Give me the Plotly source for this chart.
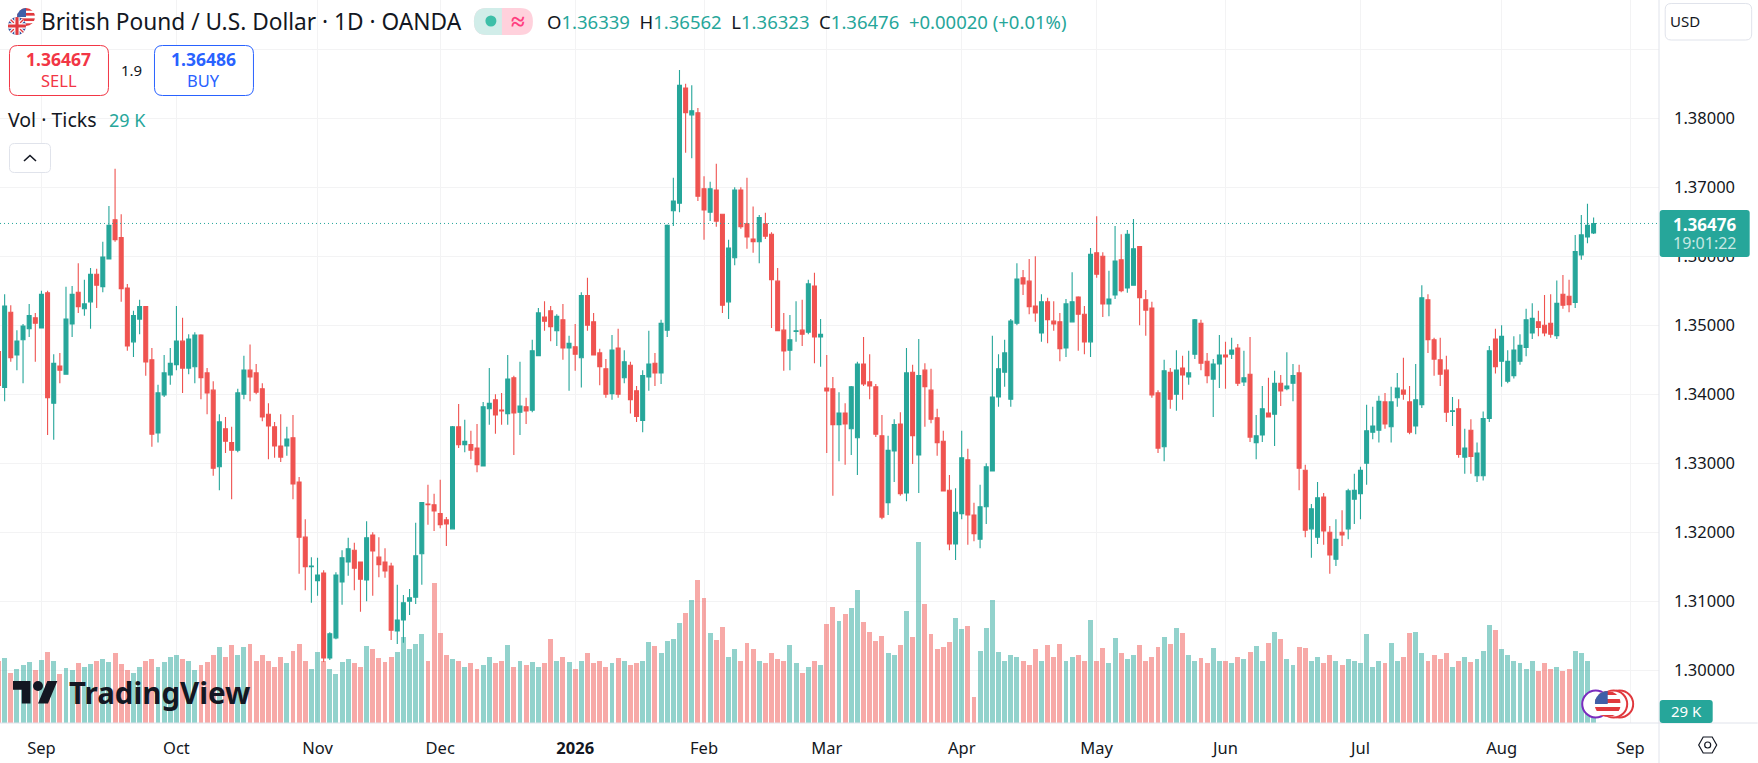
import base64
import plotly.graph_objects as go

open_ = [
1.3462,1.3410,1.3519,1.3457,1.3479,1.3495,1.3511,1.3496,1.3547,1.3387,
1.3441,1.3429,1.3502,1.3548,1.3524,1.3534,1.3574,1.3556,1.3596,1.3653,
1.3627,1.3554,1.3476,1.3509,1.3527,1.3450,1.3344,1.3399,1.3428,1.3443,
1.3477,1.3438,1.3440,1.3486,1.3431,1.3406,1.3295,1.3350,1.3330,1.3319,
1.3400,1.3435,1.3431,1.3408,1.3371,1.3353,1.3325,1.3325,1.3337,1.3273,
1.3193,1.3150,1.3130,1.3141,1.3018,1.3047,1.3128,1.3157,1.3174,1.3157,
1.3131,1.3196,1.3164,1.3157,1.3151,1.3057,1.3073,1.3100,1.3106,1.3169,
1.3241,1.3240,1.3227,1.3218,1.3205,1.3353,1.3327,1.3327,1.3322,1.3296,
1.3379,1.3392,1.3377,1.3372,1.3424,1.3374,1.3382,1.3377,1.3456,1.3512,
1.3521,1.3492,1.3508,1.3467,1.3469,1.3453,1.3543,1.3505,1.3460,1.3437,
1.3401,1.3467,1.3424,1.3442,1.3405,1.3362,1.3425,1.3445,1.3431,1.3493,
1.3666,1.3677,1.3844,1.3805,1.3808,1.3698,1.3664,1.3696,1.3661,1.3534,
1.3598,1.3696,1.3647,1.3625,1.3621,1.3647,1.3632,1.3564,1.3493,1.3464,
1.3491,1.3493,1.3490,1.3557,1.3483,1.3409,1.3408,1.3356,1.3373,1.3350,
1.3337,1.3444,1.3418,1.3411,1.3340,1.3243,1.3318,1.3357,1.3257,1.3432,
1.3312,1.3435,1.3406,1.3366,1.3332,1.3261,1.3183,1.3227,1.3305,1.3225,
1.3190,1.3237,1.3289,1.3396,1.3432,1.3393,1.3503,1.3569,1.3564,1.3528,
1.3489,1.3534,1.3506,1.3505,1.3467,1.3505,1.3541,1.3516,1.3476,1.3605,
1.3600,1.3531,1.3544,1.3595,1.3554,1.3558,1.3614,1.3537,1.3525,1.3402,
1.3324,1.3432,1.3400,1.3438,1.3425,1.3458,1.3503,1.3448,1.3422,1.3444,
1.3457,1.3458,1.3467,1.3418,1.3429,1.3330,1.3341,1.3373,1.3371,1.3416,
1.3408,1.3416,1.3431,1.3290,1.3205,1.3193,1.3251,1.3200,1.3161,1.3200,
1.3205,1.3248,1.3256,1.3300,1.3345,1.3348,1.3389,1.3353,1.3395,1.3406,
1.3389,1.3354,1.3385,1.3537,1.3479,1.3450,1.3435,1.3375,1.3379,1.3309,
1.3348,1.3282,1.3282,1.3365,1.3480,1.3448,1.3419,1.3427,1.3448,1.3468,
1.3489,1.3505,1.3500,1.3503,1.3485,1.3545,1.3542,1.3533,1.3602,1.3628,1.36339]

high = [
1.3465,1.3545,1.3529,1.3493,1.3502,1.3531,1.3518,1.3550,1.3550,1.3458,
1.3460,1.3556,1.3557,1.3590,1.3566,1.3583,1.3582,1.3621,1.3673,1.3727,
1.3661,1.3560,1.3521,1.3537,1.3528,1.3467,1.3414,1.3457,1.3467,1.3528,
1.3511,1.3487,1.3490,1.3487,1.3438,1.3419,1.3371,1.3367,1.3353,1.3408,
1.3456,1.3472,1.3444,1.3416,1.3387,1.3360,1.3371,1.3353,1.3370,1.3280,
1.3219,1.3164,1.3163,1.3145,1.3055,1.3142,1.3174,1.3192,1.3185,1.3157,
1.3216,1.3200,1.3193,1.3177,1.3156,1.3124,1.3109,1.3118,1.3214,1.3244,
1.3269,1.3256,1.3276,1.3222,1.3354,1.3386,1.3363,1.3347,1.3357,1.3389,
1.3438,1.3400,1.3402,1.3457,1.3427,1.3447,1.3395,1.3479,1.3525,1.3535,
1.3528,1.3516,1.3531,1.3485,1.3502,1.3548,1.3569,1.3518,1.3466,1.3451,
1.3486,1.3495,1.3464,1.3447,1.3412,1.3435,1.3492,1.3460,1.3508,1.3646,
1.3714,1.3870,1.3850,1.3848,1.3815,1.3716,1.3708,1.3734,1.3661,1.3624,
1.3700,1.3700,1.3714,1.3672,1.3660,1.3663,1.3635,1.3583,1.3518,1.3515,
1.3535,1.3537,1.3566,1.3576,1.3509,1.3457,1.3425,1.3403,1.3387,1.3412,
1.3447,1.3483,1.3458,1.3415,1.3370,1.3340,1.3364,1.3374,1.3467,1.3443,
1.3480,1.3445,1.3437,1.3379,1.3347,1.3283,1.3264,1.3347,1.3321,1.3243,
1.3269,1.3300,1.3485,1.3458,1.3479,1.3509,1.3590,1.3580,1.3596,1.3600,
1.3545,1.3540,1.3535,1.3518,1.3538,1.3577,1.3542,1.3528,1.3612,1.3658,
1.3606,1.3579,1.3644,1.3632,1.3638,1.3654,1.3615,1.3551,1.3534,1.3406,
1.3450,1.3438,1.3464,1.3456,1.3463,1.3509,1.3508,1.3460,1.3451,1.3486,
1.3476,1.3482,1.3473,1.3463,1.3483,1.3370,1.3412,1.3424,1.3434,1.3428,
1.3461,1.3444,1.3443,1.3298,1.3241,1.3273,1.3257,1.3209,1.3219,1.3232,
1.3263,1.3285,1.3295,1.3385,1.3382,1.3398,1.3402,1.3411,1.3431,1.3453,
1.3412,1.3444,1.3558,1.3545,1.3482,1.3482,1.3456,1.3396,1.3393,1.3350,
1.3364,1.3330,1.3375,1.3470,1.3495,1.3500,1.3464,1.3484,1.3487,1.3524,
1.3532,1.3521,1.3544,1.3545,1.3565,1.3573,1.3566,1.3631,1.3660,1.3676,1.36562]

low = [
1.3405,1.3390,1.3447,1.3435,1.3416,1.3483,1.3447,1.3496,1.3341,1.3334,
1.3416,1.3429,1.3483,1.3518,1.3514,1.3495,1.3525,1.3548,1.3596,1.3621,
1.3534,1.3463,1.3454,1.3487,1.3427,1.3324,1.3330,1.3396,1.3414,1.3435,
1.3402,1.3429,1.3416,1.3393,1.3371,1.3282,1.3261,1.3315,1.3248,1.3316,
1.3393,1.3390,1.3400,1.3361,1.3306,1.3308,1.3302,1.3311,1.3248,1.3140,
1.3116,1.3098,1.3108,1.3012,1.3015,1.3045,1.3095,1.3137,1.3116,1.3085,
1.3100,1.3108,1.3135,1.3134,1.3044,1.3038,1.3040,1.3080,1.3096,1.3124,
1.3211,1.3202,1.3206,1.3180,1.3205,1.3322,1.3316,1.3306,1.3287,1.3296,
1.3356,1.3343,1.3356,1.3356,1.3312,1.3341,1.3357,1.3374,1.3456,1.3492,
1.3477,1.3470,1.3450,1.3405,1.3434,1.3410,1.3492,1.3457,1.3413,1.3395,
1.3392,1.3395,1.3416,1.3372,1.3360,1.3345,1.3405,1.3412,1.3415,1.3483,
1.3644,1.3664,1.3750,1.3742,1.3680,1.3624,1.3651,1.3643,1.3518,1.3509,
1.3587,1.3640,1.3611,1.3605,1.3590,1.3625,1.3496,1.3492,1.3434,1.3435,
1.3476,1.3470,1.3487,1.3445,1.3440,1.3315,1.3253,1.3303,1.3298,1.3312,
1.3283,1.3412,1.3393,1.3338,1.3219,1.3225,1.3273,1.3253,1.3245,1.3299,
1.3257,1.3353,1.3358,1.3311,1.3260,1.3174,1.3160,1.3219,1.3182,1.3187,
1.3177,1.3212,1.3289,1.3382,1.3411,1.3382,1.3500,1.3544,1.3516,1.3505,
1.3476,1.3474,1.3492,1.3448,1.3454,1.3505,1.3463,1.3458,1.3454,1.3569,
1.3512,1.3513,1.3538,1.3548,1.3547,1.3558,1.3500,1.3485,1.3395,1.3315,
1.3303,1.3379,1.3376,1.3392,1.3414,1.3451,1.3435,1.3416,1.3367,1.3409,
1.3408,1.3451,1.3412,1.3412,1.3331,1.3306,1.3331,1.3367,1.3325,1.3383,
1.3406,1.3390,1.3261,1.3193,1.3163,1.3183,1.3182,1.3140,1.3151,1.3180,
1.3190,1.3212,1.3219,1.3269,1.3335,1.3330,1.3350,1.3330,1.3382,1.3392,
1.3342,1.3342,1.3380,1.3460,1.3427,1.3412,1.3360,1.3354,1.3308,1.3285,
1.3285,1.3273,1.3275,1.3360,1.3430,1.3411,1.3416,1.3423,1.3443,1.3455,
1.3480,1.3484,1.3484,1.3482,1.3480,1.3524,1.3519,1.3525,1.3595,1.3619,1.36323]

close = [
1.3413,1.3528,1.3453,1.3477,1.3499,1.3514,1.3503,1.3545,1.3395,1.3445,
1.3435,1.3509,1.3545,1.3527,1.3531,1.3574,1.3558,1.3599,1.3645,1.3624,
1.3553,1.3470,1.3514,1.3527,1.3447,1.3342,1.3402,1.3431,1.3445,1.3477,
1.3438,1.3480,1.3486,1.3424,1.3402,1.3293,1.3360,1.3332,1.3319,1.3402,
1.3435,1.3425,1.3403,1.3367,1.3354,1.3325,1.3309,1.3335,1.3270,1.3193,
1.3150,1.3151,1.3138,1.3018,1.3053,1.3138,1.3163,1.3176,1.3148,1.3132,
1.3192,1.3173,1.3153,1.3144,1.3058,1.3073,1.3098,1.3105,1.3166,1.3243,
1.3240,1.3231,1.3211,1.3212,1.3353,1.3327,1.3332,1.3319,1.3298,1.3382,
1.3387,1.3370,1.3376,1.3422,1.3373,1.3383,1.3376,1.3463,1.3518,1.3506,
1.3498,1.3513,1.3467,1.3474,1.3458,1.3543,1.3500,1.3457,1.3440,1.3400,
1.3464,1.3400,1.3447,1.3392,1.3368,1.3427,1.3444,1.3431,1.3503,1.3645,
1.3680,1.3848,1.3808,1.3811,1.3687,1.3667,1.3698,1.3651,1.3529,1.3612,
1.3696,1.3643,1.3628,1.3621,1.3656,1.3629,1.3566,1.3492,1.3463,1.3479,
1.3492,1.3487,1.3560,1.3483,1.3487,1.3405,1.3356,1.3373,1.3357,1.3411,
1.3444,1.3415,1.3412,1.3342,1.3222,1.3319,1.3356,1.3256,1.3431,1.3340,
1.3427,1.3411,1.3364,1.3330,1.3260,1.3183,1.3229,1.3308,1.3225,1.3198,
1.3237,1.3295,1.3396,1.3437,1.3460,1.3506,1.3567,1.3560,1.3527,1.3518,
1.3534,1.3508,1.3502,1.3466,1.3531,1.3534,1.3516,1.3476,1.3603,1.3574,
1.3531,1.3538,1.3593,1.3550,1.3632,1.3611,1.3540,1.3522,1.3399,1.3322,
1.3434,1.3393,1.3435,1.3428,1.3431,1.3508,1.3445,1.3427,1.3444,1.3457,
1.3454,1.3464,1.3416,1.3424,1.3338,1.3340,1.3379,1.3367,1.3416,1.3405,
1.3412,1.3427,1.3293,1.3203,1.3234,1.3250,1.3202,1.3167,1.3190,1.3196,
1.3260,1.3261,1.3290,1.3347,1.3354,1.3390,1.3357,1.3389,1.3409,1.3400,
1.3345,1.3392,1.3540,1.3479,1.3451,1.3429,1.3374,1.3376,1.3313,1.3322,
1.3310,1.3315,1.3365,1.3463,1.3440,1.3484,1.3448,1.3464,1.3471,1.3508,
1.3510,1.3497,1.3489,1.3487,1.3532,1.3529,1.3530,1.3607,1.3631,1.3645,1.36476]

volume_k = [
150,158,120,130,140,148,128,152,172,150,
118,132,128,145,135,142,150,155,148,170,
142,128,120,135,150,155,135,148,160,165,
155,150,128,140,148,165,184,160,189,165,
184,191,150,165,150,135,160,145,175,191,
150,130,172,150,130,118,148,155,145,135,
186,179,158,148,160,172,208,179,191,215,
150,338,218,165,155,150,135,145,130,140,
160,145,150,189,135,150,140,148,135,145,
203,150,160,148,130,150,170,145,150,135,
145,158,150,140,145,150,196,186,168,198,
203,242,266,297,346,302,218,201,232,160,
179,150,193,179,150,145,170,155,150,189,
145,120,135,150,140,239,280,247,263,278,
321,244,220,198,210,170,165,189,271,208,
437,288,215,179,184,196,254,227,234,62,
175,230,297,172,150,165,160,150,140,179,
150,189,160,191,150,160,165,150,249,150,
181,145,205,170,155,165,189,150,160,184,
208,191,230,218,165,150,158,145,181,150,
150,145,160,155,172,186,150,193,220,203,
155,140,184,181,150,160,145,165,150,140,
155,150,145,215,135,150,145,193,150,160,
218,220,170,150,165,155,170,135,150,160,
148,155,175,236,225,178,165,150,145,130,
150,125,145,130,135,125,130,173,168,150,29]

month_index = [7, 29, 52, 72, 94, 115, 135, 157, 179, 200, 222, 245, 266]
month_labels = ["Sep", "Oct", "Nov", "Dec", "<b>2026</b>", "Feb", "Mar", "Apr", "May", "Jun", "Jul", "Aug", "Sep"]
price_ticks = [1.30, 1.31, 1.32, 1.33, 1.34, 1.35, 1.36, 1.37, 1.38, 1.39]
price_labels = ["1.30000", "1.31000", "1.32000", "1.33000", "1.34000", "1.35000", "1.36000", "1.37000", "1.38000", ""]

UP, DOWN = "#26A69A", "#EF5350"
INK = "#131722"
GRID = "#F3F3F4"
EDGE = "#E0E3EB"
FONT = "Noto Sans"
PW, PH = 1659.3, 723.0
bars = list(range(len(close)))


def X(px):
    return px / PW


def Y(py):
    return 1 - py / PH


def rr(x0, y0, x1, y1, r):
    pts = [
        f"M{X(x0 + r)},{Y(y0)}", f"L{X(x1 - r)},{Y(y0)}", f"Q{X(x1)},{Y(y0)} {X(x1)},{Y(y0 + r)}",
        f"L{X(x1)},{Y(y1 - r)}", f"Q{X(x1)},{Y(y1)} {X(x1 - r)},{Y(y1)}", f"L{X(x0 + r)},{Y(y1)}",
        f"Q{X(x0)},{Y(y1)} {X(x0)},{Y(y1 - r)}", f"L{X(x0)},{Y(y0 + r)}", f"Q{X(x0)},{Y(y0)} {X(x0 + r)},{Y(y0)}", "Z",
    ]
    return " ".join(pts)


def poly(points, closed=False):
    s = " ".join(("M" if i == 0 else "L") + f"{X(a)},{Y(b)}" for i, (a, b) in enumerate(points))
    return s + (" Z" if closed else "")


def svg_uri(svg):
    return "data:image/svg+xml;base64," + base64.b64encode(svg.encode()).decode()


US = ('<svg xmlns="http://www.w3.org/2000/svg" viewBox="0 0 40 40"><defs><clipPath id="c"><circle cx="20" cy="20" r="20"/></clipPath></defs>'
      '<g clip-path="url(#c)"><rect width="40" height="40" fill="#fff"/>'
      '<rect y="0" width="40" height="6" fill="#e0393e"/><rect y="11" width="40" height="6" fill="#e0393e"/>'
      '<rect y="23" width="40" height="6" fill="#e0393e"/><rect y="34" width="40" height="6" fill="#e0393e"/>'
      '<rect width="20" height="20" fill="#3f5fa8"/></g></svg>')
GB = ('<svg xmlns="http://www.w3.org/2000/svg" viewBox="0 0 40 40"><defs><clipPath id="c"><circle cx="20" cy="20" r="20"/></clipPath></defs>'
      '<g clip-path="url(#c)"><rect width="40" height="40" fill="#2f4f9e"/>'
      '<path d="M0 0L40 40M40 0L0 40" stroke="#fff" stroke-width="8"/><path d="M0 0L40 40M40 0L0 40" stroke="#e0393e" stroke-width="3"/>'
      '<path d="M20 0V40M0 20H40" stroke="#fff" stroke-width="12"/><path d="M20 0V40M0 20H40" stroke="#e0393e" stroke-width="7"/></g></svg>')
TV = ('<svg xmlns="http://www.w3.org/2000/svg" viewBox="0 0 36 28"><path fill="#131722" d="M14 22H7V11H0V4h14v18zM28 22h-8l7.5-18h8L28 22z"/>'
      '<circle fill="#131722" cx="20" cy="8" r="4"/></svg>')
RINGS = ('<svg xmlns="http://www.w3.org/2000/svg" viewBox="0 0 54 30">'
         '<defs><clipPath id="f"><circle cx="27" cy="15" r="13"/></clipPath></defs>'
         '<circle cx="15" cy="15" r="13.5" fill="#fff" stroke="#7B2CBF" stroke-width="2"/>'
         '<circle cx="39" cy="15" r="13.5" fill="#fff" stroke="#E0393E" stroke-width="2"/>'
         '<circle cx="33" cy="15" r="13.5" fill="#fff" stroke="#E0393E" stroke-width="2"/>'
         '<g clip-path="url(#f)"><rect x="14" y="2" width="26" height="26" fill="#fff"/>'
         '<rect x="14" y="2" width="26" height="4" fill="#e0393e"/><rect x="14" y="10" width="26" height="4" fill="#e0393e"/>'
         '<rect x="14" y="18" width="26" height="4" fill="#e0393e"/><rect x="14" y="26" width="26" height="3" fill="#e0393e"/>'
         '<rect x="14" y="2" width="13" height="13" fill="#3f5fa8"/></g></svg>')


def image(uri, x0, y0, x1, y1):
    return dict(source=uri, xref="paper", yref="paper", x=X(x0), y=Y(y0), sizex=X(x1) - X(x0),
                sizey=(y1 - y0) / PH, xanchor="left", yanchor="top", sizing="stretch", layer="above")


def label(text, x, y, size, color=INK, anchor="left", bold=False):
    return dict(text=f"<b>{text}</b>" if bold else text, xref="paper", yref="paper", x=X(x), y=Y(y),
                xanchor=anchor, yanchor="middle", showarrow=False, align=anchor,
                font=dict(family=FONT, size=size, color=color), borderpad=0, borderwidth=0)


fig = go.Figure()
fig.add_trace(go.Bar(
    x=bars, y=volume_k, yaxis="y", width=0.8, hoverinfo="skip", showlegend=False,
    marker=dict(color=["rgba(38,166,154,0.5)" if c >= o else "rgba(239,83,80,0.5)" for o, c in zip(open_, close)],
                line=dict(width=0)),
))
fig.add_trace(go.Candlestick(
    x=bars, open=open_, high=high, low=low, close=close, yaxis="y2", showlegend=False, whiskerwidth=0,
    increasing=dict(line=dict(color=UP, width=1.1), fillcolor=UP),
    decreasing=dict(line=dict(color=DOWN, width=1.1), fillcolor=DOWN),
))

shapes = [
    dict(type="line", xref="paper", yref="y2", x0=0, x1=1, y0=close[-1], y1=close[-1],
         line=dict(color=UP, width=1, dash="1px,3px")),
    dict(type="line", xref="paper", yref="paper", x0=1, x1=1, y0=Y(0), y1=Y(763), line=dict(color=EDGE, width=1)),
    dict(type="line", xref="paper", yref="paper", x0=0, x1=X(1758), y0=0, y1=0, line=dict(color=EDGE, width=1)),
    dict(type="path", path=rr(474, 8, 533, 35, 13), fillcolor="#FFD1DC", line=dict(width=0), xref="paper", yref="paper"),
    dict(type="path", path=rr(474, 8, 520, 35, 13), fillcolor="#D1EDE9", line=dict(width=0), xref="paper", yref="paper"),
    dict(type="rect", x0=X(502), x1=X(520), y0=Y(35), y1=Y(8), fillcolor="#FFD1DC", line=dict(width=0), xref="paper", yref="paper"),
    dict(type="circle", x0=X(485.5), x1=X(496.5), y0=Y(26.5), y1=Y(15.5), fillcolor="#3DBFA8", line=dict(width=0), xref="paper", yref="paper"),
    dict(type="path", path=rr(9.5, 45.5, 108.5, 95.5, 8), fillcolor="white", line=dict(color="#F23645", width=1), xref="paper", yref="paper"),
    dict(type="path", path=rr(154.5, 45.5, 253.5, 95.5, 8), fillcolor="white", line=dict(color="#2962FF", width=1), xref="paper", yref="paper"),
    dict(type="path", path=rr(9.5, 143.5, 50.5, 172.5, 5), fillcolor="white", line=dict(color=EDGE, width=1), xref="paper", yref="paper"),
    dict(type="path", path=poly([(24, 161), (30, 155.5), (36, 161)]), line=dict(color=INK, width=1.6), xref="paper", yref="paper"),
    dict(type="path", path=rr(1665.5, 3.5, 1752, 40, 6), fillcolor="white", line=dict(color=EDGE, width=1), xref="paper", yref="paper"),
    dict(type="path", path=rr(1660, 210, 1750, 257, 3), fillcolor=UP, line=dict(width=0), xref="paper", yref="paper"),
    dict(type="path", path=rr(1660, 700, 1713, 723, 3), fillcolor=UP, line=dict(width=0), xref="paper", yref="paper"),
    dict(type="path", path=poly([(1699, 745), (1703.5, 737), (1712.5, 737), (1717, 745), (1712.5, 753), (1703.5, 753)], True),
         line=dict(color=INK, width=1.2), xref="paper", yref="paper"),
    dict(type="circle", x0=X(1705), x1=X(1711), y0=Y(748), y1=Y(742), line=dict(color=INK, width=1.2), xref="paper", yref="paper"),
]

ohlc = (f'O<span style="color:{UP}">1.36339</span>  H<span style="color:{UP}">1.36562</span>  '
        f'L<span style="color:{UP}">1.36323</span>  C<span style="color:{UP}">1.36476</span>  '
        f'<span style="color:{UP}">+0.00020 (+0.01%)</span>')

annotations = [
    label("British Pound / U.S. Dollar · 1D · OANDA", 41, 21, 22.7),
    label("≈", 518, 20, 25, "#FF3D7F", "center", True),
    label(ohlc, 547, 21, 18.5),
    label("1.36467", 59, 59, 17.5, "#F23645", "center", True),
    label("SELL", 59, 80, 16.5, "#F23645", "center"),
    label("1.9", 131.5, 70, 15, INK, "center"),
    label("1.36486", 204, 59, 17.5, "#2962FF", "center", True),
    label("BUY", 204, 80, 16.5, "#2962FF", "center"),
    label("Vol · Ticks", 8, 120, 19.5),
    label("29 K", 109, 120, 18, UP),
    label("USD", 1685, 21, 15, INK, "center"),
    label("1.36476", 1705, 224, 17, "white", "center", True),
    label("19:01:22", 1705, 243, 16, "#C6E8E3", "center"),
    label("29 K", 1687, 711, 15, "white", "center"),
    label("TradingView", 69, 692, 29.5, INK, "left", True),
]

images = [
    image(svg_uri(US), 17, 8, 35, 26),
    image(svg_uri(GB), 8, 17, 26, 35),
    image(svg_uri(TV), 13, 676, 58, 711),
    image(svg_uri(RINGS), 1581, 689, 1635, 719),
]

fig.update_layout(
    width=1758, height=763, autosize=False,
    margin=dict(l=0, r=98.7, t=0, b=40, pad=0),
    paper_bgcolor="white", plot_bgcolor="white", boxgap=0.09, bargap=0,
    font=dict(family=FONT, color=INK),
    xaxis=dict(range=[0.244, 270.66], tickmode="array", tickvals=month_index, ticktext=month_labels,
               showgrid=True, gridcolor=GRID, gridwidth=1, ticks="", showline=False, zeroline=False,
               rangeslider=dict(visible=False), tickfont=dict(family=FONT, size=16.5, color=INK),
               ticklabelstandoff=13, fixedrange=True),
    yaxis=dict(range=[0, 1747.5], visible=False, showgrid=False, fixedrange=True),
    yaxis2=dict(range=[1.292362, 1.397145], overlaying="y", side="right", anchor="x", tickmode="array",
                tickvals=price_ticks, ticktext=price_labels, showgrid=True, gridcolor=GRID, gridwidth=1,
                ticks="", showline=False, zeroline=False, tickfont=dict(family=FONT, size=16.5, color=INK),
                ticklabelstandoff=14, fixedrange=True),
    shapes=shapes, annotations=annotations, images=images,
    hovermode=False, showlegend=False,
)

fig.write_html("out.html", post_script="document.body.style.margin='0';document.documentElement.style.overflow='hidden';",
               config=dict(displayModeBar=False))
